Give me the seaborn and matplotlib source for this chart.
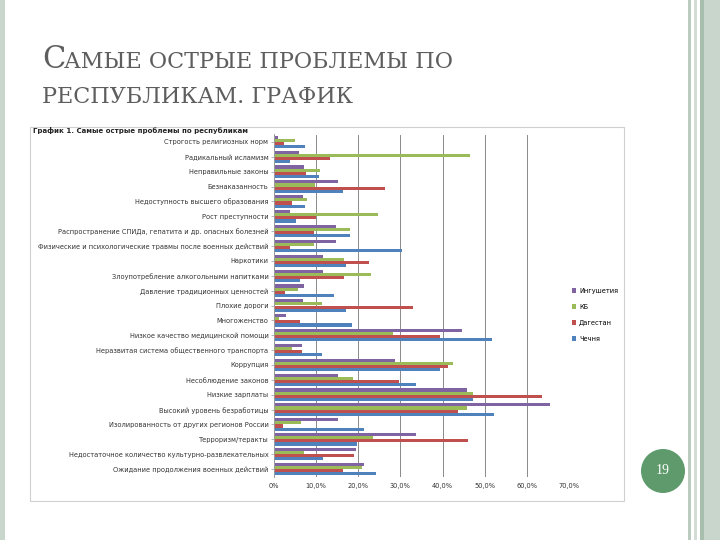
import pandas as pd
import seaborn as sns
import matplotlib.pyplot as plt
from matplotlib.patches import Rectangle, Ellipse
from matplotlib.ticker import FuncFormatter

# Problems, top to bottom as in the chart
categories = [
    "Строгость религиозных норм",
    "Радикальный исламизм",
    "Неправильные законы",
    "Безнаказанность",
    "Недоступность высшего образования",
    "Рост преступности",
    "Распространение СПИДа, гепатита и др. опасных болезней",
    "Физические и психологические травмы после военных действий",
    "Наркотики",
    "Злоупотребление алкогольными напитками",
    "Давление традиционных ценностей",
    "Плохие дороги",
    "Многоженство",
    "Низкое качество медицинской помощи",
    "Неразвитая система общественного транспорта",
    "Коррупция",
    "Несоблюдение законов",
    "Низкие зарплаты",
    "Высокий уровень безработицы",
    "Изолированность от других регионов России",
    "Терроризм/теракты",
    "Недостаточное количество культурно-развлекательных",
    "Ожидание продолжения военных действий",
]
regions = ["Ингушетия", "КБ", "Дагестан", "Чечня"]

# Percent of respondents
ingushetia = [1.0, 6.0, 7.2, 15.2, 6.9, 3.7, 14.6, 14.6, 11.6, 11.6, 7.2, 6.9,
              2.9, 44.5, 6.7, 28.7, 15.2, 45.7, 65.6, 15.2, 33.7, 19.4, 21.4]
kb = [5.0, 46.6, 10.8, 9.8, 7.9, 24.6, 18.1, 9.4, 16.5, 23.1, 5.7, 11.4,
      1.2, 28.3, 4.3, 42.4, 18.7, 47.2, 45.9, 6.3, 23.6, 7.2, 20.9]
dagestan = [2.4, 13.2, 7.6, 26.4, 4.3, 10.0, 9.4, 3.7, 22.6, 16.5, 2.6, 33.1,
            6.1, 39.4, 6.7, 41.2, 29.7, 63.6, 43.7, 2.1, 46.1, 19.1, 16.4]
chechnya = [7.3, 3.8, 10.6, 16.3, 7.3, 5.3, 18.1, 30.3, 17.2, 6.1, 14.2, 17.2,
            18.5, 51.7, 11.4, 39.4, 33.7, 47.2, 52.1, 21.4, 19.7, 11.6, 24.2]

x_ticks = [0, 10, 20, 30, 40, 50, 60, 70]

df = pd.DataFrame({"problem": categories * 4,
                   "region": [r for r in regions for _ in categories],
                   "value": ingushetia + kb + dagestan + chechnya})

palette = {"Ингушетия": "#8064A2", "КБ": "#9BBB59",
           "Дагестан": "#C0504D", "Чечня": "#4F81BD"}

W, H = 720, 540
fig = plt.figure(figsize=(7.2, 5.4), dpi=100, facecolor="white")


def box(x0, y0, x1, y1, **kw):
    # rectangle in pixel coords measured from the top-left corner
    fig.patches.append(Rectangle((x0 / W, 1 - y1 / H), (x1 - x0) / W, (y1 - y0) / H,
                                 transform=fig.transFigure, zorder=-1, **kw))


# slide borders
box(0, 0, 5, 540, facecolor="#c9d6cc", edgecolor="none")
box(688, 0, 691, 540, facecolor="#bccbc0", edgecolor="none")
box(694, 0, 697, 540, facecolor="#d3ddd5", edgecolor="none")
box(700, 0, 704, 540, facecolor="#a9bfae", edgecolor="none")
box(704, 0, 720, 540, facecolor="#c9d6cc", edgecolor="none")

# slide title in small caps
title_kw = dict(family="DejaVu Serif", color="#5e5e5e", va="baseline")
fig.text(42 / W, 1 - 68 / H, "С", fontsize=22, **title_kw)
fig.text(64 / W, 1 - 68 / H, "АМЫЕ ОСТРЫЕ ПРОБЛЕМЫ ПО", fontsize=16, **title_kw)
fig.text(42 / W, 1 - 103 / H, "РЕСПУБЛИКАМ. ГРАФИК", fontsize=16, **title_kw)

# frame of the pasted chart picture
box(30, 127, 624, 501, facecolor="white", edgecolor="#d0d0d0", linewidth=0.8)
fig.text(33 / W, 1 - 131 / H, "График 1. Самые острые проблемы по республикам",
         fontsize=5, fontweight="bold", color="#222222", va="center")

ax = fig.add_axes([274 / W, 1 - 476.5 / H, 295 / W, 342 / H])
sns.barplot(data=df, y="problem", x="value", hue="region", hue_order=regions,
            order=categories, palette=palette, orient="h", width=0.84,
            saturation=1, ax=ax, legend=False)

ax.set_xlim(0, 70)
ax.set_xticks(x_ticks)
ax.xaxis.set_major_formatter(FuncFormatter(
    lambda v, _: "0%" if v == 0 else f"{v:.1f}%".replace(".", ",")))
ax.set_xlabel("")
ax.set_ylabel("")
ax.set_facecolor("none")
for s in ["top", "bottom", "right"]:
    ax.spines[s].set_visible(False)
ax.spines["left"].set_color("#9a9a9a")
ax.spines["left"].set_linewidth(0.7)
ax.grid(axis="x", color="#8a8a8a", linewidth=0.7)
ax.set_axisbelow(True)
ax.tick_params(axis="y", labelsize=4.8, length=2, width=0.5, colors="#9a9a9a",
               labelcolor="#333333", pad=2)
ax.tick_params(axis="x", labelsize=4.8, length=0, labelcolor="#333333", pad=5)

# legend to the right of the plot
handles = [Rectangle((0, 0), 1, 1, facecolor=palette[r]) for r in regions]
fig.legend(handles, regions, loc="center left",
           bbox_to_anchor=(569 / W, 1 - 315 / H), frameon=False, fontsize=4.8,
           handlelength=0.7, handleheight=0.7, handletextpad=0.4,
           labelspacing=1.5, borderaxespad=0)

# slide number
fig.patches.append(Ellipse((663 / W, 1 - 471 / H), 44 / W, 44 / H,
                           transform=fig.transFigure, facecolor="#5e9a6c",
                           edgecolor="none"))
fig.text(663 / W, 1 - 471 / H, "19", family="Liberation Serif", fontsize=10,
         color="white", ha="center", va="center")

fig.savefig("out.png", dpi=100, facecolor="white")
